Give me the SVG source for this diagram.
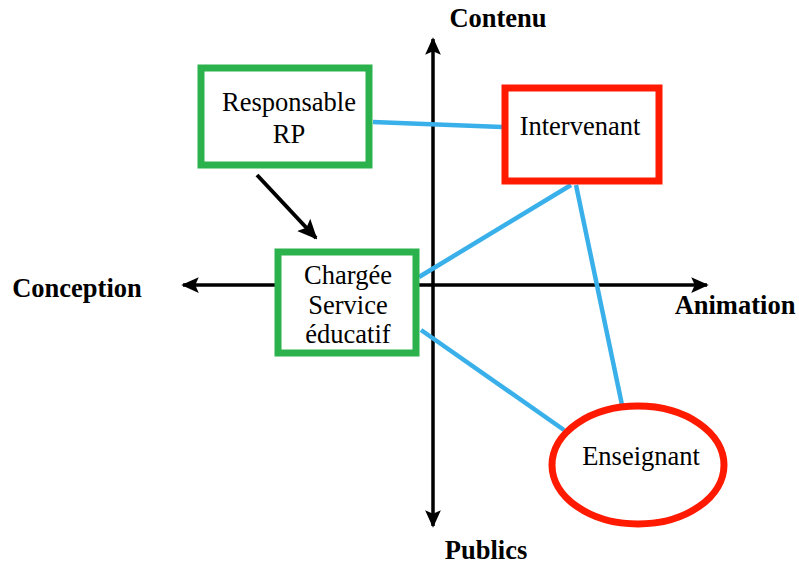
<svg xmlns="http://www.w3.org/2000/svg" width="799" height="565" viewBox="0 0 799 565">
<style>
.t{font-family:"Liberation Serif","Times New Roman",serif;font-size:26.5px;fill:#000;text-anchor:middle}
.b{font-weight:bold}
.g{fill:#fff;stroke:#2bb24c;stroke-width:7}
.r{fill:#fff;stroke:#ff1a00;stroke-width:7}
.axis{stroke:#000;stroke-width:3.5;fill:none}
.blue{stroke:#39b0ea;stroke-width:4.5;fill:none}
</style>
<defs>
<marker id="ah" viewBox="0 0 10 10" refX="9" refY="5" markerWidth="5" markerHeight="5" orient="auto" markerUnits="strokeWidth">
<path d="M0,0.5 L10,5 L0,9.5 L2,5 z" fill="#000"/>
</marker>
</defs>
<g id="axes">
<line class="axis" x1="433" y1="282" x2="433" y2="39" marker-end="url(#ah)"/>
<line class="axis" x1="433" y1="282" x2="433" y2="526" marker-end="url(#ah)"/>
<line class="axis" x1="433" y1="285" x2="183" y2="285" marker-end="url(#ah)"/>
<line class="axis" x1="433" y1="285" x2="707" y2="285" marker-end="url(#ah)"/>
<text class="t b" x="498" y="27">Contenu</text>
<text class="t b" x="486" y="559">Publics</text>
<text class="t b" x="77" y="297">Conception</text>
<text class="t b" x="735" y="314">Animation</text>
</g>
<g id="connectors">
<line class="blue" x1="373" y1="122" x2="502" y2="127"/>
<line class="blue" x1="419" y1="277" x2="571" y2="185"/>
<line class="blue" x1="576" y1="185" x2="622" y2="405"/>
<line class="blue" x1="421" y1="330" x2="564" y2="430"/>
<line x1="257" y1="175" x2="316" y2="238" stroke="#000" stroke-width="4" marker-end="url(#ah)"/>
</g>
<g id="responsable">
<rect class="g" x="201" y="68" width="168" height="97"/>
<text class="t" x="289" y="111">Responsable</text>
<text class="t" x="289" y="143">RP</text>
</g>
<g id="intervenant">
<rect class="r" x="505" y="88" width="154" height="93"/>
<text class="t" x="580" y="135">Intervenant</text>
</g>
<g id="chargee">
<rect class="g" x="278" y="252" width="138" height="101"/>
<text class="t" x="348" y="284">Chargée</text>
<text class="t" x="348" y="314">Service</text>
<text class="t" x="348" y="343">éducatif</text>
</g>
<g id="enseignant">
<ellipse class="r" cx="638" cy="465" rx="86" ry="59" stroke-width="6"/>
<text class="t" x="641" y="465">Enseignant</text>
</g>
</svg>
